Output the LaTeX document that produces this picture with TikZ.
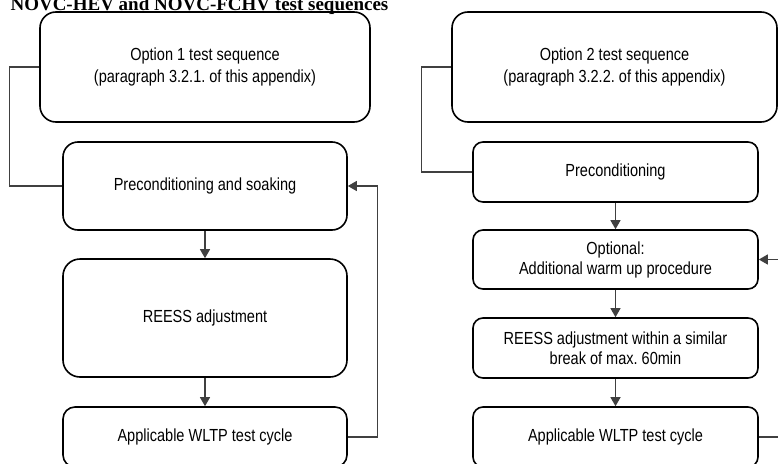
\documentclass[tikz,border=0pt]{standalone}
\usepackage{fontspec}
\setmainfont[FakeStretch=0.83]{Liberation Sans}
\newfontfamily\titlefont{Liberation Serif}
\usetikzlibrary{arrows.meta}
\frenchspacing
\begin{document}
\begin{tikzpicture}[x=1pt,y=-1pt,
  box/.style={draw=black, line width=1.6pt, rounded corners=#1, inner sep=0pt,
    align=center, font=\fontsize{17.5}{20}\selectfont},
  box/.default=12pt,
  bigbox/.style={box=16pt, font=\fontsize{17.5}{21.5}\selectfont},
  conn/.style={draw=black!75, line width=1.2pt},
  arr/.style={conn, -{Triangle[width=10pt,length=9pt]}}]
\useasboundingbox (0,0) rectangle (778,463);
\clip (0,0) rectangle (778,463);
\node[anchor=base west, font=\titlefont\bfseries\fontsize{19}{22}\selectfont] (title) at (7,10) {NOVC-HEV and NOVC-FCHV test sequences};
% left column
\node[bigbox, minimum width=330pt, minimum height=110pt] (L1) at (205,67) {Option 1 test sequence\\(paragraph 3.2.1. of this appendix)};
\node[box=15pt, minimum width=284pt, minimum height=88pt] (L2) at (205,186) {Preconditioning and soaking};
\node[box=17pt, minimum width=284pt, minimum height=118pt] (L3) at (205,318) {REESS adjustment};
\node[box=12pt, minimum width=284pt, minimum height=60pt] (L4) at (205,437) {Applicable WLTP test cycle};
% right column
\node[bigbox, minimum width=325pt, minimum height=110pt] (R1) at (614.5,67) {Option 2 test sequence\\(paragraph 3.2.2. of this appendix)};
\node[box=10pt, minimum width=285pt, minimum height=60pt] (R2) at (615.5,172) {Preconditioning};
\node[box=10pt, minimum width=285pt, minimum height=59pt] (R3) at (615.5,259.5) {Optional:\\Additional warm up procedure};
\node[box=10pt, minimum width=285pt, minimum height=60pt] (R4) at (615.5,348) {REESS adjustment within a similar\\break of max. 60min};
\node[box=10pt, minimum width=285pt, minimum height=60pt] (R5) at (615.5,437) {Applicable WLTP test cycle};
% connectors left
\draw[conn] (L1.west) -- ++(-30,0) |- (L2.west);
\draw[arr] (L2.south) -- (L3.north);
\draw[arr] (L3.south) -- (L4.north);
\draw[arr] (L4.east) -- ++(30,0) |- (L2.east);
% connectors right
\draw[conn] (R1.west) -- ++(-30,0) |- (R2.west);
\draw[arr] (R2.south) -- (R3.north);
\draw[arr] (R3.south) -- (R4.north);
\draw[arr] (R4.south) -- (R5.north);
\draw[arr] (R5.east) -- ++(32,0) |- (R3.east);
\end{tikzpicture}
\end{document}
